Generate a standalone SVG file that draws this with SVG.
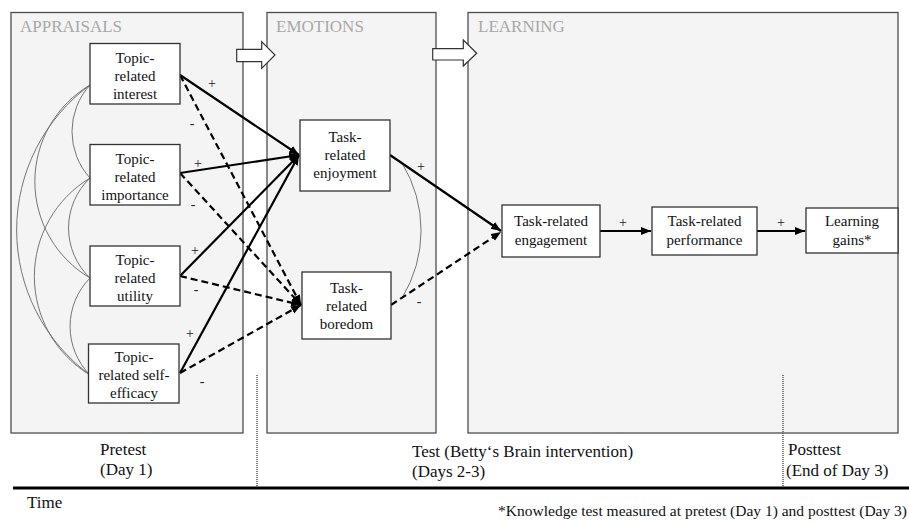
<svg xmlns="http://www.w3.org/2000/svg" width="909" height="521" viewBox="0 0 909 521">
  <style>
    .panel { fill: #f4f4f4; stroke: #4d4d4d; stroke-width: 1.3; }
    .ptitle { font-family: "Liberation Serif", "Times New Roman", serif; font-size: 17px; fill: #a8a8a8; }
    .box { fill: #ffffff; stroke: #333333; stroke-width: 1.3; }
    .lbl { font-family: "Liberation Serif", "Times New Roman", serif; font-size: 15px; fill: #111111; text-anchor: middle; }
    .sign { font-family: "Liberation Serif", "Times New Roman", serif; font-size: 14px; fill: #222222; text-anchor: middle; }
    .time { font-family: "Liberation Serif", "Times New Roman", serif; font-size: 17px; fill: #111111; }
    .pos { fill: none; stroke: #000000; stroke-width: 2.2; marker-end: url(#head); }
    .neg { fill: none; stroke: #000000; stroke-width: 2.2; stroke-dasharray: 7 4; marker-end: url(#head); }
    .corr { fill: none; stroke: #666666; stroke-width: 0.9; }
    .block { fill: #ffffff; stroke: #333333; stroke-width: 1.2; }
    .phase { stroke: #555555; stroke-width: 1.5; stroke-dasharray: 1 1; }
  </style>
  <defs>
    <marker id="head" markerUnits="userSpaceOnUse" markerWidth="12" markerHeight="10" refX="10" refY="4" orient="auto">
      <path d="M0,0 L10,4 L0,8 Z" fill="#000000"/>
    </marker>
  </defs>

  <!-- phase panels -->
  <g id="panel-appraisals">
    <rect class="panel" x="11" y="12.5" width="232" height="420.5"/>
    <text class="ptitle" x="20" y="32">APPRAISALS</text>
  </g>
  <g id="panel-emotions">
    <rect class="panel" x="267" y="12.5" width="169" height="420.5"/>
    <text class="ptitle" x="276" y="32">EMOTIONS</text>
  </g>
  <g id="panel-learning">
    <rect class="panel" x="468" y="12.5" width="430" height="420.5"/>
    <text class="ptitle" x="478" y="32">LEARNING</text>
  </g>

  <!-- block arrows between phases -->
  <g id="phase-arrows">
    <polygon class="block" points="236.7,49.3 261.7,49.3 261.7,41.7 275,55 261.7,68.3 261.7,61.7 236.7,61.7"/>
    <polygon class="block" points="432.7,48.7 463.3,48.7 463.3,40 476.7,53.3 463.3,66 463.3,60 432.7,60"/>
  </g>

  <!-- correlations among appraisals and between emotions -->
  <g id="correlations">
    <path class="corr" d="M90,85 A69,69 0 0 0 90,178"/>
    <path class="corr" d="M90,178 A69,69 0 0 0 90,278"/>
    <path class="corr" d="M90,278 A69,69 0 0 0 90,375"/>
    <path class="corr" d="M90,85 A112,112 0 0 0 90,278"/>
    <path class="corr" d="M90,178 A115,115 0 0 0 90,375"/>
    <path class="corr" d="M90,85 A180,180 0 0 0 90,375"/>
    <path class="corr" d="M402,163 A129,129 0 0 1 402,298"/>
  </g>

  <!-- paths -->
  <g id="connectors">
    <path class="pos" d="M180,75 L299,155"/>
    <path class="neg" d="M180,75 L301,305"/>
    <path class="pos" d="M180,173 L299,155"/>
    <path class="neg" d="M180,173 L301,305"/>
    <path class="pos" d="M180,276 L299,155"/>
    <path class="neg" d="M180,276 L301,305"/>
    <path class="pos" d="M180,373 L299,155"/>
    <path class="neg" d="M180,373 L301,305"/>
    <path class="pos" d="M390,155 L501,231"/>
    <path class="neg" d="M391,305 L501,232"/>
    <path class="pos" d="M600,231 L651,231"/>
    <path class="pos" d="M757,231 L805,231"/>
  </g>

  <g id="signs">
    <text class="sign" x="212" y="88">+</text>
    <text class="sign" x="192" y="128">-</text>
    <text class="sign" x="198" y="168">+</text>
    <text class="sign" x="193" y="209">-</text>
    <text class="sign" x="195" y="255">+</text>
    <text class="sign" x="196" y="294">-</text>
    <text class="sign" x="190" y="338">+</text>
    <text class="sign" x="202" y="386">-</text>
    <text class="sign" x="421" y="171">+</text>
    <text class="sign" x="419" y="306">-</text>
    <text class="sign" x="623" y="227">+</text>
    <text class="sign" x="781" y="227">+</text>
  </g>

  <!-- appraisal nodes -->
  <g id="node-interest">
    <rect class="box" x="90" y="43.5" width="90" height="60.5"/>
    <text class="lbl" x="135" y="63">Topic-</text>
    <text class="lbl" x="135" y="81">related</text>
    <text class="lbl" x="135" y="99">interest</text>
  </g>
  <g id="node-importance">
    <rect class="box" x="90" y="144.5" width="90" height="60.5"/>
    <text class="lbl" x="135" y="164">Topic-</text>
    <text class="lbl" x="135" y="182">related</text>
    <text class="lbl" x="135" y="200">importance</text>
  </g>
  <g id="node-utility">
    <rect class="box" x="90" y="246" width="90" height="60"/>
    <text class="lbl" x="135" y="265">Topic-</text>
    <text class="lbl" x="135" y="283">related</text>
    <text class="lbl" x="135" y="301">utility</text>
  </g>
  <g id="node-self-efficacy">
    <rect class="box" x="88.5" y="344" width="90.5" height="59"/>
    <text class="lbl" x="134" y="362">Topic-</text>
    <text class="lbl" x="134" y="380">related self-</text>
    <text class="lbl" x="134" y="398">efficacy</text>
  </g>

  <!-- emotion nodes -->
  <g id="node-enjoyment">
    <rect class="box" x="300" y="120" width="90" height="71"/>
    <text class="lbl" x="345" y="142">Task-</text>
    <text class="lbl" x="345" y="160">related</text>
    <text class="lbl" x="345" y="178">enjoyment</text>
  </g>
  <g id="node-boredom">
    <rect class="box" x="302" y="272" width="89" height="67"/>
    <text class="lbl" x="346.5" y="293">Task-</text>
    <text class="lbl" x="346.5" y="311">related</text>
    <text class="lbl" x="346.5" y="329">boredom</text>
  </g>

  <!-- learning nodes -->
  <g id="node-engagement">
    <rect class="box" x="502" y="205" width="98" height="52"/>
    <text class="lbl" x="551" y="226">Task-related</text>
    <text class="lbl" x="551" y="245">engagement</text>
  </g>
  <g id="node-performance">
    <rect class="box" x="652" y="207" width="105" height="48"/>
    <text class="lbl" x="704.5" y="226">Task-related</text>
    <text class="lbl" x="704.5" y="245">performance</text>
  </g>
  <g id="node-gains">
    <rect class="box" x="806" y="208" width="92" height="45"/>
    <text class="lbl" x="852" y="226">Learning</text>
    <text class="lbl" x="852" y="245">gains*</text>
  </g>

  <!-- time axis -->
  <g id="timeline">
    <line class="phase" x1="257" y1="375" x2="257" y2="487"/>
    <line class="phase" x1="783" y1="375" x2="783" y2="487"/>
    <line x1="13" y1="488" x2="909" y2="488" stroke="#000000" stroke-width="3"/>
    <text class="time" x="100" y="455">Pretest</text>
    <text class="time" x="100" y="475">(Day 1)</text>
    <text class="time" x="412" y="457">Test (Betty‘s Brain intervention)</text>
    <text class="time" x="412" y="477">(Days 2-3)</text>
    <text class="time" x="788" y="455">Posttest</text>
    <text class="time" x="786" y="476">(End of Day 3)</text>
    <text class="time" x="27" y="508">Time</text>
    <text class="time" x="907" y="516" text-anchor="end" style="font-size:15.5px">*Knowledge test measured at pretest (Day 1) and posttest (Day 3)</text>
  </g>
</svg>
